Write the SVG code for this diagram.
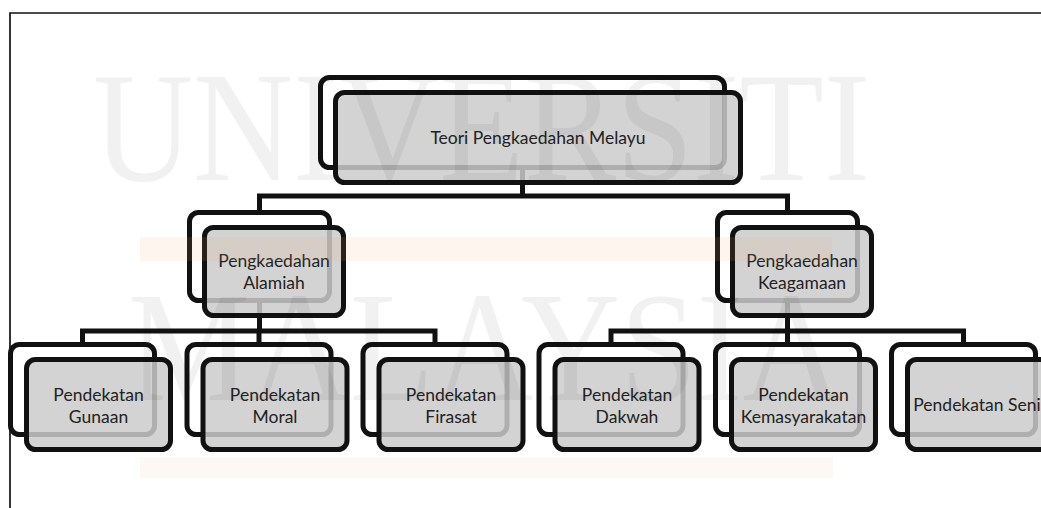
<svg xmlns="http://www.w3.org/2000/svg" width="1041" height="508" viewBox="0 0 1041 508">
<style>
.back{fill:#ffffff;stroke:#111;stroke-width:5}
.front{fill:#cbcbcb;fill-opacity:0.85;stroke:#111;stroke-width:5}
.conn{fill:none;stroke:#111;stroke-width:5;stroke-linejoin:miter}
.lbl{font-family:Lato,"Liberation Sans",sans-serif;font-size:17.5px;fill:#222;text-anchor:middle}
.wm{font-family:"Liberation Serif","DejaVu Serif",serif;font-size:157px;fill:#000;opacity:0.05}
</style>
<rect x="0" y="0" width="1041" height="508" fill="#fff"/>
<path d="M10,508 V13 H1041" fill="none" stroke="#111" stroke-width="1.7"/>
<g id="connectors" class="conn">
<path d="M522.5,167.5 V196 M259.5,212.5 V196 H787.5 V212.5"/>
<path d="M259.5,300.5 V331 M82.5,344.5 V331 H435 V344.5 M259,331 V344.5"/>
<path d="M787.5,300.5 V331 M611,344.5 V331 H963.5 V344.5 M787.5,331 V344.5"/>
</g>
<g id="n-root">
<rect class="back" x="320.5" y="77.5" width="404" height="90" rx="9"/>
<rect class="front" x="335.5" y="92.5" width="405" height="90" rx="9"/>
<text class="lbl" x="538" y="144">Teori Pengkaedahan Melayu</text>
</g>
<g id="n-alamiah">
<rect class="back" x="189.5" y="212.5" width="140" height="88" rx="9"/>
<rect class="front" x="204.5" y="227.5" width="139" height="88" rx="9"/>
<text class="lbl" x="274" y="267">Pengkaedahan</text>
<text class="lbl" x="274" y="289">Alamiah</text>
</g>
<g id="n-keagamaan">
<rect class="back" x="717.5" y="212.5" width="140" height="88" rx="9"/>
<rect class="front" x="732.5" y="227.5" width="139" height="88" rx="9"/>
<text class="lbl" x="802" y="267">Pengkaedahan</text>
<text class="lbl" x="802" y="289">Keagamaan</text>
</g>
<g id="n-gunaan">
<rect class="back" x="10.5" y="344.5" width="144" height="90" rx="9"/>
<rect class="front" x="26.5" y="359.5" width="144" height="90" rx="9"/>
<text class="lbl" x="98.5" y="401">Pendekatan</text>
<text class="lbl" x="98.5" y="423">Gunaan</text>
</g>
<g id="n-moral">
<rect class="back" x="187" y="344.5" width="144" height="90" rx="9"/>
<rect class="front" x="203" y="359.5" width="144" height="90" rx="9"/>
<text class="lbl" x="275" y="401">Pendekatan</text>
<text class="lbl" x="275" y="423">Moral</text>
</g>
<g id="n-firasat">
<rect class="back" x="363" y="344.5" width="144" height="90" rx="9"/>
<rect class="front" x="379" y="359.5" width="144" height="90" rx="9"/>
<text class="lbl" x="451" y="401">Pendekatan</text>
<text class="lbl" x="451" y="423">Firasat</text>
</g>
<g id="n-dakwah">
<rect class="back" x="539" y="344.5" width="144" height="90" rx="9"/>
<rect class="front" x="555" y="359.5" width="144" height="90" rx="9"/>
<text class="lbl" x="627" y="401">Pendekatan</text>
<text class="lbl" x="627" y="423">Dakwah</text>
</g>
<g id="n-kemasyarakatan">
<rect class="back" x="715.5" y="344.5" width="144" height="90" rx="9"/>
<rect class="front" x="731.5" y="359.5" width="144" height="90" rx="9"/>
<text class="lbl" x="803.5" y="401">Pendekatan</text>
<text class="lbl" x="803.5" y="423">Kemasyarakatan</text>
</g>
<g id="n-seni">
<rect class="back" x="891.5" y="344.5" width="144" height="90" rx="9"/>
<rect class="front" x="907.5" y="359.5" width="144" height="90" rx="9"/>
<text class="lbl" x="977" y="411">Pendekatan Seni</text>
</g>
<g id="watermark">
<rect x="140" y="237" width="692" height="24" fill="#f3a060" opacity="0.11"/>
<rect x="140" y="457" width="693" height="21" fill="#f3a060" opacity="0.08"/>
<text class="wm" x="93" y="180" textLength="777" lengthAdjust="spacingAndGlyphs">UNIVERSITI</text>
<text class="wm" x="128" y="400" textLength="714" lengthAdjust="spacingAndGlyphs">MALAYSIA</text>
</g>
</svg>
